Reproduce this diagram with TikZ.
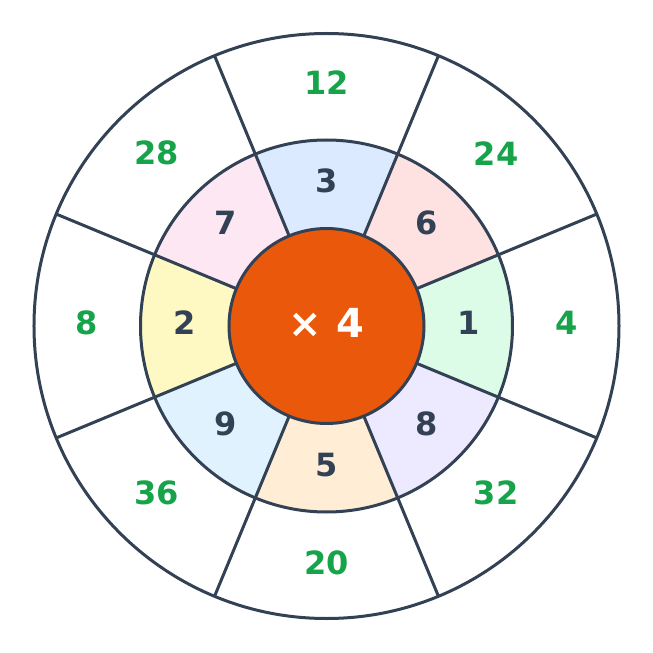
\documentclass[tikz,border=0pt]{standalone}
\usepackage{fontspec}
\setmainfont{DejaVu Sans}
\definecolor{ringline}{HTML}{334155}
\definecolor{hubfill}{HTML}{EA580C}
\definecolor{outgreen}{HTML}{16A34A}
\definecolor{fillthree}{HTML}{DBEAFE}
\definecolor{fillsix}{HTML}{FEE2E2}
\definecolor{fillone}{HTML}{DCFCE7}
\definecolor{filleight}{HTML}{EDE9FE}
\definecolor{fillfive}{HTML}{FFEDD5}
\definecolor{fillnine}{HTML}{E0F2FE}
\definecolor{filltwo}{HTML}{FEF9C3}
\definecolor{fillseven}{HTML}{FCE7F3}
\tikzset{
	midnum/.style={text=ringline, yshift=3, font=\fontsize{32}{38}\selectfont\bfseries},
	outnum/.style={text=outgreen, yshift=3, font=\fontsize{32}{38}\selectfont\bfseries},
}
\begin{document}
\begin{tikzpicture}[x=1pt, y=1pt, line width=3pt]
	\useasboundingbox (-326.5,-327) rectangle (326.5,326);

	\fill[fillthree] (0,0) -- (67.5:186) arc[start angle=67.5, end angle=112.5, radius=186] -- cycle;
	\fill[fillsix] (0,0) -- (22.5:186) arc[start angle=22.5, end angle=67.5, radius=186] -- cycle;
	\fill[fillone] (0,0) -- (-22.5:186) arc[start angle=-22.5, end angle=22.5, radius=186] -- cycle;
	\fill[filleight] (0,0) -- (-67.5:186) arc[start angle=-67.5, end angle=-22.5, radius=186] -- cycle;
	\fill[fillfive] (0,0) -- (-112.5:186) arc[start angle=-112.5, end angle=-67.5, radius=186] -- cycle;
	\fill[fillnine] (0,0) -- (-157.5:186) arc[start angle=-157.5, end angle=-112.5, radius=186] -- cycle;
	\fill[filltwo] (0,0) -- (157.5:186) arc[start angle=157.5, end angle=202.5, radius=186] -- cycle;
	\fill[fillseven] (0,0) -- (112.5:186) arc[start angle=112.5, end angle=157.5, radius=186] -- cycle;

	\draw[ringline] (0,0) circle[radius=292.5];
	\draw[ringline] (0,0) circle[radius=186];

	\draw[ringline] (22.5:97.5) -- (22.5:292.5);
	\draw[ringline] (67.5:97.5) -- (67.5:292.5);
	\draw[ringline] (112.5:97.5) -- (112.5:292.5);
	\draw[ringline] (157.5:97.5) -- (157.5:292.5);
	\draw[ringline] (202.5:97.5) -- (202.5:292.5);
	\draw[ringline] (247.5:97.5) -- (247.5:292.5);
	\draw[ringline] (292.5:97.5) -- (292.5:292.5);
	\draw[ringline] (337.5:97.5) -- (337.5:292.5);

	\node[circle, draw=ringline, fill=hubfill, minimum size=195, inner sep=0] (hub) at (0,0) {};
	\node[text=white, yshift=3, font=\fontsize{40}{46}\selectfont\bfseries] (times) at (hub.center) {× 4};

	\node[midnum] (m3) at (90:142) {3};
	\node[midnum] (m6) at (45:142) {6};
	\node[midnum] (m1) at (0:142) {1};
	\node[midnum] (m8) at (-45:142) {8};
	\node[midnum] (m5) at (-90:142) {5};
	\node[midnum] (m9) at (-135:142) {9};
	\node[midnum] (m2) at (180:142) {2};
	\node[midnum] (m7) at (135:142) {7};

	\node[outnum] (o12) at (90:240) {12};
	\node[outnum] (o24) at (45:240) {24};
	\node[outnum] (o4) at (0:240) {4};
	\node[outnum] (o32) at (-45:240) {32};
	\node[outnum] (o20) at (-90:240) {20};
	\node[outnum] (o36) at (-135:240) {36};
	\node[outnum] (o8) at (180:240) {8};
	\node[outnum] (o28) at (135:240) {28};
\end{tikzpicture}
\end{document}
